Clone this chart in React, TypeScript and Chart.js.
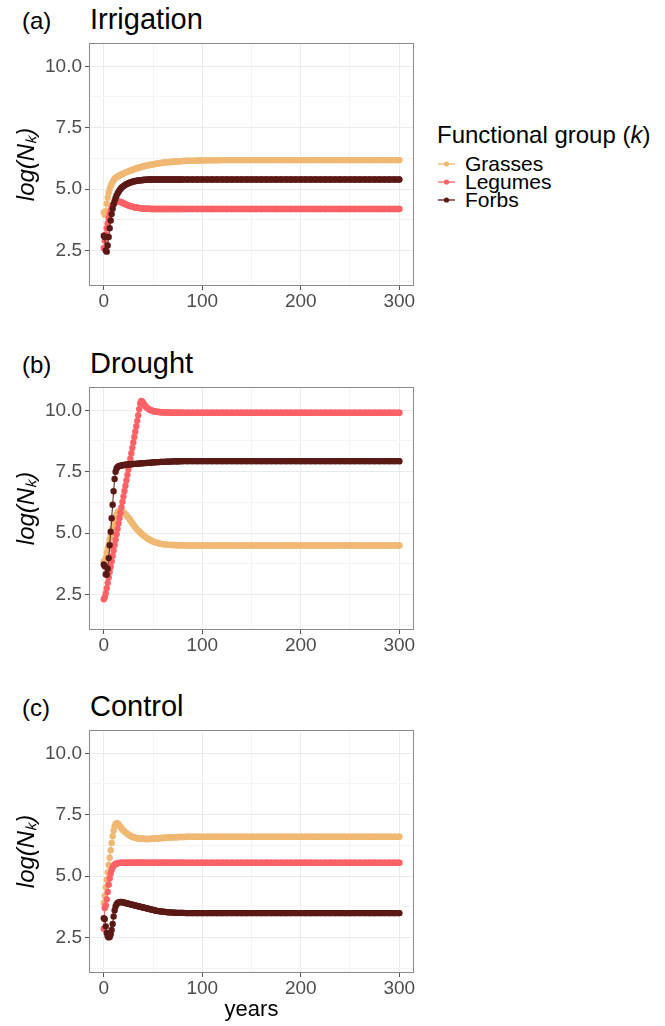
import React, { useEffect, useRef } from "react";
import { Chart, registerables } from "chart.js";

Chart.register(...registerables);

const FONT = "'Liberation Sans', Arial, Helvetica, sans-serif";
Chart.defaults.font.family = FONT;

// ---------- data ----------
const years = [
  0, 1, 2, 3, 4, 5, 6, 7, 8, 9, 10, 11, 12, 13, 14, 15, 16, 17, 18, 19, 20,
  21, 22, 23, 24, 25, 26, 27, 28, 29, 30, 31, 32, 33, 34, 35, 36, 37, 38, 39, 40,
  42, 44, 46, 48, 50, 52, 54, 56, 58, 60, 62, 64, 66, 68, 70, 72, 74, 76, 78, 80,
  85, 90, 95, 100, 105, 110, 115, 120, 125, 130, 135,
  140, 145, 150, 155, 160, 165, 170, 175, 180, 185, 190,
  195, 200, 205, 210, 215, 220, 225, 230, 235, 240, 245,
  250, 255, 260, 265, 270, 275, 280, 285, 290, 295, 300,
];

const irrigationGrasses = [
  4.05, 3.95, 4.1, 4.4, 4.65, 4.85, 5.0, 5.12, 5.22, 5.3,
  5.36, 5.41, 5.45, 5.48, 5.51, 5.53, 5.55, 5.57, 5.59, 5.61,
  5.63, 5.65, 5.67, 5.69, 5.7, 5.72, 5.74, 5.75, 5.77, 5.78,
  5.8, 5.81, 5.83, 5.84, 5.85, 5.87, 5.88, 5.89, 5.9, 5.91,
  5.92,
  5.94, 5.96, 5.98, 5.99, 6.01, 6.02, 6.03, 6.05, 6.06, 6.07,
  6.08, 6.09, 6.1, 6.1, 6.11, 6.12, 6.12, 6.13, 6.13, 6.14,
  6.15, 6.15, 6.16, 6.16, 6.17, 6.17, 6.17, 6.18, 6.18, 6.18, 6.18,
  6.18, 6.18, 6.18, 6.18, 6.18, 6.18, 6.18, 6.18, 6.18, 6.18, 6.18,
  6.18, 6.18, 6.18, 6.18, 6.18, 6.18, 6.18, 6.18, 6.18, 6.18, 6.18,
  6.18, 6.18, 6.18, 6.18, 6.18, 6.18, 6.18, 6.18, 6.18, 6.18, 6.18,
];
const irrigationLegumes = [
  2.6, 2.9, 3.15, 3.4, 3.6, 3.8, 3.98, 4.12, 4.24, 4.33,
  4.4, 4.44, 4.47, 4.48, 4.49, 4.49, 4.48, 4.47, 4.46, 4.44,
  4.42, 4.4, 4.38, 4.36, 4.35, 4.33, 4.32, 4.3, 4.29, 4.28,
  4.27, 4.26, 4.25, 4.25, 4.24, 4.23, 4.23, 4.22, 4.22, 4.21,
  4.21,
  4.2, 4.2, 4.2, 4.19, 4.19, 4.19, 4.19, 4.19, 4.19, 4.19,
  4.19, 4.19, 4.19, 4.19, 4.19, 4.19, 4.19, 4.19, 4.19, 4.19,
  4.19, 4.19, 4.19, 4.19, 4.19, 4.19, 4.19, 4.19, 4.19, 4.19, 4.19,
  4.19, 4.19, 4.19, 4.19, 4.19, 4.19, 4.19, 4.19, 4.19, 4.19, 4.19,
  4.19, 4.19, 4.19, 4.19, 4.19, 4.19, 4.19, 4.19, 4.19, 4.19, 4.19,
  4.19, 4.19, 4.19, 4.19, 4.19, 4.19, 4.19, 4.19, 4.19, 4.19, 4.19,
];
const irrigationForbs = [
  3.1, 3.05, 2.5, 2.45, 2.7, 3.05, 3.4, 3.72, 3.98, 4.2,
  4.38, 4.52, 4.64, 4.74, 4.82, 4.89, 4.95, 5.0, 5.05, 5.09,
  5.12, 5.15, 5.18, 5.2, 5.22, 5.24, 5.26, 5.27, 5.28, 5.3,
  5.31, 5.32, 5.33, 5.33, 5.34, 5.35, 5.35, 5.36, 5.36, 5.37,
  5.37,
  5.38, 5.38, 5.39, 5.39, 5.39, 5.39, 5.39, 5.39, 5.39, 5.39,
  5.39, 5.39, 5.39, 5.39, 5.39, 5.39, 5.39, 5.39, 5.39, 5.39,
  5.39, 5.39, 5.39, 5.39, 5.39, 5.39, 5.39, 5.39, 5.39, 5.39, 5.39,
  5.39, 5.39, 5.39, 5.39, 5.39, 5.39, 5.39, 5.39, 5.39, 5.39, 5.39,
  5.39, 5.39, 5.39, 5.39, 5.39, 5.39, 5.39, 5.39, 5.39, 5.39, 5.39,
  5.39, 5.39, 5.39, 5.39, 5.39, 5.39, 5.39, 5.39, 5.39, 5.39, 5.39,
];

const droughtGrasses = [
  3.85, 3.78, 4.0, 4.2, 4.38, 4.56, 4.74, 4.9, 5.06, 5.22,
  5.38, 5.52, 5.66, 5.76, 5.84, 5.89, 5.91, 5.91, 5.89, 5.87,
  5.84, 5.81, 5.77, 5.73, 5.68, 5.63, 5.58, 5.52, 5.46, 5.4,
  5.35, 5.29, 5.24, 5.19, 5.14, 5.1, 5.06, 5.02, 4.98, 4.94,
  4.91,
  4.85, 4.79, 4.74, 4.7, 4.66, 4.63, 4.6, 4.58, 4.56, 4.55,
  4.54, 4.53, 4.52, 4.52, 4.51, 4.51, 4.5, 4.5, 4.5, 4.5,
  4.49, 4.49, 4.49, 4.49, 4.49, 4.49, 4.49, 4.49, 4.49, 4.49, 4.49,
  4.49, 4.49, 4.49, 4.49, 4.49, 4.49, 4.49, 4.49, 4.49, 4.49, 4.49,
  4.49, 4.49, 4.49, 4.49, 4.49, 4.49, 4.49, 4.49, 4.49, 4.49, 4.49,
  4.49, 4.49, 4.49, 4.49, 4.49, 4.49, 4.49, 4.49, 4.49, 4.49, 4.49,
];
const droughtLegumes = [
  2.3, 2.38, 2.55, 2.75, 2.97, 3.19, 3.41, 3.63, 3.85, 4.07,
  4.29, 4.51, 4.73, 4.95, 5.17, 5.39, 5.61, 5.83, 6.05, 6.27,
  6.49, 6.71, 6.93, 7.15, 7.37, 7.59, 7.81, 8.03, 8.25, 8.47,
  8.69, 8.91, 9.13, 9.35, 9.57, 9.8, 10.05, 10.28, 10.38, 10.36,
  10.3,
  10.18, 10.1, 10.04, 10.0, 9.97, 9.95, 9.94, 9.93, 9.92, 9.92,
  9.91, 9.91, 9.91, 9.9, 9.9, 9.9, 9.9, 9.9, 9.9, 9.9,
  9.9, 9.9, 9.9, 9.9, 9.9, 9.9, 9.9, 9.9, 9.9, 9.9, 9.9,
  9.9, 9.9, 9.9, 9.9, 9.9, 9.9, 9.9, 9.9, 9.9, 9.9, 9.9,
  9.9, 9.9, 9.9, 9.9, 9.9, 9.9, 9.9, 9.9, 9.9, 9.9, 9.9,
  9.9, 9.9, 9.9, 9.9, 9.9, 9.9, 9.9, 9.9, 9.9, 9.9, 9.9,
];
const droughtForbs = [
  3.72, 3.65, 3.32, 3.3, 3.55, 3.98, 4.5, 5.05, 5.6, 6.15,
  6.7, 7.2, 7.5, 7.63, 7.69, 7.72, 7.73, 7.74, 7.75, 7.76,
  7.77, 7.77, 7.78, 7.78, 7.79, 7.79, 7.8, 7.8, 7.8, 7.81,
  7.81, 7.82, 7.82, 7.82, 7.83, 7.83, 7.83, 7.84, 7.84, 7.84,
  7.85,
  7.85, 7.86, 7.86, 7.87, 7.88, 7.88, 7.89, 7.89, 7.9, 7.9,
  7.9, 7.91, 7.91, 7.91, 7.92, 7.92, 7.92, 7.92, 7.93, 7.93,
  7.93, 7.93, 7.93, 7.93, 7.93, 7.93, 7.93, 7.93, 7.93, 7.93, 7.93,
  7.93, 7.93, 7.93, 7.93, 7.93, 7.93, 7.93, 7.93, 7.93, 7.93, 7.93,
  7.93, 7.93, 7.93, 7.93, 7.93, 7.93, 7.93, 7.93, 7.93, 7.93, 7.93,
  7.93, 7.93, 7.93, 7.93, 7.93, 7.93, 7.93, 7.93, 7.93, 7.93, 7.93,
];

const controlGrasses = [
  3.9, 4.2, 4.55, 4.85, 5.15, 5.45, 5.75, 6.05, 6.35, 6.62,
  6.85, 7.02, 7.11, 7.15, 7.14, 7.1, 7.05, 7.0, 6.95, 6.9,
  6.86, 6.82, 6.78, 6.75, 6.72, 6.69, 6.66, 6.64, 6.62, 6.6,
  6.58, 6.57, 6.56, 6.55, 6.54, 6.53, 6.53, 6.52, 6.52, 6.52,
  6.52,
  6.51, 6.51, 6.51, 6.52, 6.52, 6.53, 6.53, 6.54, 6.55, 6.55,
  6.56, 6.56, 6.57, 6.57, 6.58, 6.58, 6.58, 6.59, 6.59, 6.59,
  6.6, 6.6, 6.6, 6.6, 6.6, 6.6, 6.6, 6.6, 6.6, 6.6, 6.6,
  6.6, 6.6, 6.6, 6.6, 6.6, 6.6, 6.6, 6.6, 6.6, 6.6, 6.6,
  6.6, 6.6, 6.6, 6.6, 6.6, 6.6, 6.6, 6.6, 6.6, 6.6, 6.6,
  6.6, 6.6, 6.6, 6.6, 6.6, 6.6, 6.6, 6.6, 6.6, 6.6, 6.6,
];
const controlLegumes = [
  2.85, 3.7, 3.8, 4.05, 4.35, 4.65, 4.9, 5.1, 5.25, 5.35,
  5.42, 5.46, 5.49, 5.51, 5.52, 5.53, 5.53, 5.54, 5.54, 5.54,
  5.54, 5.54, 5.54, 5.54, 5.54, 5.54, 5.54, 5.54, 5.54, 5.54,
  5.54, 5.54, 5.54, 5.54, 5.54, 5.54, 5.54, 5.54, 5.54, 5.54,
  5.54,
  5.54, 5.54, 5.54, 5.54, 5.54, 5.54, 5.54, 5.54, 5.54, 5.54,
  5.54, 5.54, 5.54, 5.54, 5.54, 5.54, 5.54, 5.54, 5.54, 5.54,
  5.54, 5.54, 5.54, 5.54, 5.54, 5.54, 5.54, 5.54, 5.54, 5.54, 5.54,
  5.54, 5.54, 5.54, 5.54, 5.54, 5.54, 5.54, 5.54, 5.54, 5.54, 5.54,
  5.54, 5.54, 5.54, 5.54, 5.54, 5.54, 5.54, 5.54, 5.54, 5.54, 5.54,
  5.54, 5.54, 5.54, 5.54, 5.54, 5.54, 5.54, 5.54, 5.54, 5.54, 5.54,
];
const controlForbs = [
  3.28, 3.25, 2.95, 2.68, 2.55, 2.5, 2.52, 2.62, 2.8, 3.05,
  3.35, 3.6, 3.76, 3.85, 3.9, 3.92, 3.93, 3.94, 3.94, 3.93,
  3.92, 3.91, 3.9, 3.89, 3.88, 3.87, 3.86, 3.85, 3.84, 3.83,
  3.82, 3.81, 3.8, 3.79, 3.78, 3.77, 3.76, 3.75, 3.74, 3.73,
  3.72,
  3.7, 3.68, 3.66, 3.64, 3.62, 3.6, 3.58, 3.57, 3.56, 3.55,
  3.54, 3.53, 3.52, 3.52, 3.51, 3.51, 3.5, 3.5, 3.5, 3.5,
  3.49, 3.49, 3.49, 3.49, 3.49, 3.49, 3.49, 3.49, 3.49, 3.49, 3.49,
  3.49, 3.49, 3.49, 3.49, 3.49, 3.49, 3.49, 3.49, 3.49, 3.49, 3.49,
  3.49, 3.49, 3.49, 3.49, 3.49, 3.49, 3.49, 3.49, 3.49, 3.49, 3.49,
  3.49, 3.49, 3.49, 3.49, 3.49, 3.49, 3.49, 3.49, 3.49, 3.49, 3.49,
];

const groupNames = ["Grasses", "Legumes", "Forbs"];
const groupColors = ["#F0B872", "#FC6166", "#5B1915"];
const xTickValues = [0, 50, 100, 150, 200, 250, 300];
const yTickValues = [1.25, 2.5, 3.75, 5, 6.25, 7.5, 8.75, 10];
const xRange = [-15, 315];
const yRange = [1.05, 10.95];

// ---------- layout ----------
const PLOT_LEFT = 89;
const PLOT_RIGHT = 414;
const PLOT_H = 243;
const PAD_TOP = 16;
const CANVAS_W = 425;
const POINT_R = 3.2;

const isMajorX = (v: number) => Math.abs(v % 100) < 1e-6;
const isMajorY = (v: number) => Math.abs(v / 2.5 - Math.round(v / 2.5)) < 1e-6;

const boxPlugin = {
  id: "panelBox",
  afterDatasetsDraw(chart: any) {
    const { ctx, chartArea } = chart;
    ctx.save();
    ctx.strokeStyle = "#8a8a8a";
    ctx.lineWidth = 1;
    ctx.strokeRect(
      Math.round(chartArea.left) + 0.5,
      Math.round(chartArea.top) + 0.5,
      Math.round(chartArea.right - chartArea.left) - 1,
      Math.round(chartArea.bottom - chartArea.top) - 1
    );
    ctx.restore();
  },
};

type PanelProps = {
  tag: string;
  title: string;
  series: number[][];
  chartTop: number;
  showXTitle: boolean;
};

function Panel({ tag, title, series, chartTop, showXTitle }: PanelProps) {
  const ref = useRef<HTMLCanvasElement | null>(null);
  const xAxisH = showXTitle ? 52 : 30;
  const canvasH = PAD_TOP + PLOT_H + xAxisH;

  useEffect(() => {
    if (!ref.current) return;
    const orders = [2, 1, 0];
    const datasets = series.map((vals, k) => ({
      label: groupNames[k],
      data: years.map((x, i) => ({ x, y: vals[i] })),
      borderColor: groupColors[k],
      backgroundColor: groupColors[k],
      pointBackgroundColor: groupColors[k],
      pointBorderColor: groupColors[k],
      pointBorderWidth: 0,
      pointRadius: POINT_R,
      borderWidth: 1,
      borderCapStyle: "round",
      borderJoinStyle: "round",
      // where yearly points are merged into a continuous band of dots, draw the band
      segment: {
        borderWidth: (c: any) =>
          years[c.p1DataIndex] - years[c.p0DataIndex] > 1 ? POINT_R * 2 : 1,
      },
      tension: 0,
      fill: false,
      order: orders[k],
    }));
    const chart = new Chart(ref.current, {
      type: "line",
      data: { datasets },
      options: {
        responsive: false,
        animation: false,
        events: [],
        layout: {
          padding: { left: 0, right: CANVAS_W - PLOT_RIGHT, top: PAD_TOP, bottom: 0 },
        },
        plugins: {
          legend: { display: false },
          tooltip: { enabled: false },
          title: { display: false },
        },
        scales: {
          x: {
            type: "linear",
            min: xRange[0],
            max: xRange[1],
            afterBuildTicks: (s: any) => {
              s.ticks = xTickValues.map((v) => ({ value: v }));
            },
            afterFit: (s: any) => {
              s.height = xAxisH;
            },
            ticks: {
              autoSkip: false,
              maxRotation: 0,
              padding: 0,
              color: "#4d4d4d",
              font: { size: 19, family: FONT },
              callback: (v: any) => (isMajorX(Number(v)) ? String(v) : ""),
            },
            grid: {
              drawTicks: true,
              tickLength: 4,
              lineWidth: 1,
              color: (c: any) => (c.tick && isMajorX(c.tick.value) ? "#ebebeb" : "#f4f4f4"),
              tickColor: (c: any) => (c.tick && isMajorX(c.tick.value) ? "#555555" : "rgba(0,0,0,0)"),
            },
            border: { display: false },
            title: {
              display: showXTitle,
              text: "years",
              color: "#000",
              font: { size: 22, family: FONT },
              padding: { top: 0, bottom: 2 },
            },
          },
          y: {
            type: "linear",
            min: yRange[0],
            max: yRange[1],
            afterBuildTicks: (s: any) => {
              s.ticks = yTickValues.map((v) => ({ value: v }));
            },
            afterFit: (s: any) => {
              s.width = PLOT_LEFT;
            },
            ticks: {
              autoSkip: false,
              padding: 3,
              color: "#4d4d4d",
              font: { size: 19, family: FONT },
              callback: (v: any) => (isMajorY(Number(v)) ? Number(v).toFixed(1) : ""),
            },
            grid: {
              drawTicks: true,
              tickLength: 4,
              lineWidth: 1,
              color: (c: any) => (c.tick && isMajorY(c.tick.value) ? "#ebebeb" : "#f4f4f4"),
              tickColor: (c: any) => (c.tick && isMajorY(c.tick.value) ? "#555555" : "rgba(0,0,0,0)"),
            },
            border: { display: false },
            title: {
              display: true,
              text: "log(N\u2096)",
              color: "#000",
              font: { size: 24, style: "italic", family: FONT },
              padding: { top: 13, bottom: 0 },
            },
          },
        },
      } as any,
      plugins: [boxPlugin],
    });
    return () => chart.destroy();
  }, []);

  const baseline = chartTop - 13.5;
  return (
    <>
      <div
        style={{
          position: "absolute",
          left: 22,
          top: baseline - 0.8465 * 24,
          font: `24px ${FONT}`,
          lineHeight: "24px",
          color: "#000",
          whiteSpace: "nowrap",
        }}
      >
        {tag}
      </div>
      <div
        style={{
          position: "absolute",
          left: 90,
          top: baseline - 0.8465 * 29,
          font: `29px ${FONT}`,
          lineHeight: "29px",
          color: "#000",
          whiteSpace: "nowrap",
        }}
      >
        {title}
      </div>
      <canvas
        ref={ref}
        width={CANVAS_W}
        height={canvasH}
        style={{
          position: "absolute",
          left: 0,
          top: chartTop - PAD_TOP,
          width: CANVAS_W,
          height: canvasH,
        }}
      />
    </>
  );
}

function Legend() {
  const titleBaseline = 143.3;
  const itemBaselines = [171, 189, 207];
  const titleFs = 24;
  const fs = 21;
  return (
    <>
      <div
        style={{
          position: "absolute",
          left: 437,
          top: titleBaseline - 0.8465 * titleFs,
          font: `${titleFs}px ${FONT}`,
          lineHeight: `${titleFs}px`,
          whiteSpace: "nowrap",
          color: "#000",
        }}
      >
        Functional group (<i>k</i>)
      </div>
      {groupNames.map((name, k) => (
        <React.Fragment key={name}>
          <svg
            width={20}
            height={10}
            style={{ position: "absolute", left: 437, top: itemBaselines[k] - 7.4 - 5 }}
          >
            <line x1={1} y1={5} x2={18} y2={5} stroke={groupColors[k]} strokeWidth={1.3} />
            <circle cx={9.5} cy={5} r={2.6} fill={groupColors[k]} />
          </svg>
          <div
            style={{
              position: "absolute",
              left: 465,
              top: itemBaselines[k] - 0.8465 * fs,
              font: `${fs}px ${FONT}`,
              lineHeight: `${fs}px`,
              whiteSpace: "nowrap",
              color: "#000",
            }}
          >
            {name}
          </div>
        </React.Fragment>
      ))}
    </>
  );
}

export default function App() {
  return (
    <div
      style={{
        position: "absolute",
        left: 0,
        top: 0,
        width: 665,
        height: 1026,
        background: "#ffffff",
        overflow: "hidden",
      }}
    >
      <Panel
        tag="(a)"
        title="Irrigation"
        series={[irrigationGrasses, irrigationLegumes, irrigationForbs]}
        chartTop={43}
        showXTitle={false}
      />
      <Panel
        tag="(b)"
        title="Drought"
        series={[droughtGrasses, droughtLegumes, droughtForbs]}
        chartTop={387}
        showXTitle={false}
      />
      <Panel
        tag="(c)"
        title="Control"
        series={[controlGrasses, controlLegumes, controlForbs]}
        chartTop={730}
        showXTitle={true}
      />
      <Legend />
    </div>
  );
}
